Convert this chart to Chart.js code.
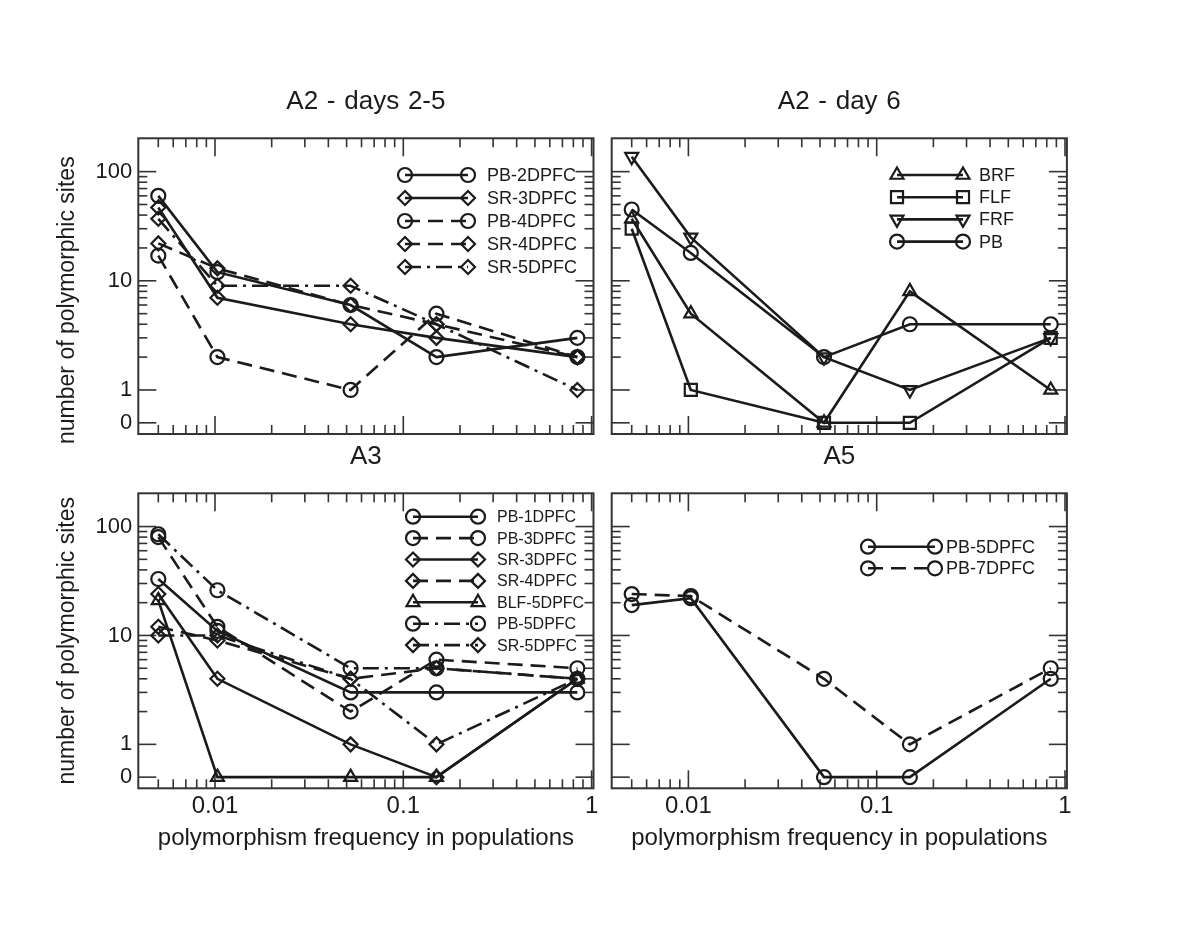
<!DOCTYPE html>
<html>
<head>
<meta charset="utf-8">
<title>polymorphic sites</title>
<script src="https://cdn.jsdelivr.net/npm/chart.js@4.4.1/dist/chart.umd.min.js"></script>
<style>
  body { margin: 0; background: #fff; }
  #wrap { position: relative; width: 1200px; height: 927px; }
  #wrap canvas { position: absolute; left: 0; top: 0; }
</style>
</head>
<body>
<div id="wrap">
  <canvas id="chartA2days" width="1200" height="927"></canvas>
  <canvas id="chartA2day6" width="1200" height="927"></canvas>
  <canvas id="chartA3" width="1200" height="927"></canvas>
  <canvas id="chartA5" width="1200" height="927"></canvas>
</div>
<script>
// frequency bins (x) shared by all panels
const freqBins = [0.005, 0.0103, 0.0525, 0.15, 0.84];

// A2 - days 2-5
const pb2dpfc = [60, 12, 6, 2, 3];
const sr3dpfcA2 = [47, 7, 4, 3, 2];
const pb4dpfc = [17, 2, 1, 5, 2];
const sr4dpfcA2 = [22, 13, 6, 4, 2];
const sr5dpfcA2 = [37, 9, 9, 4, 1];

// A2 - day 6
const brf = [37, 5, 0, 8, 1];
const flf = [30, 1, 0, 0, 3];
const frf = [137, 25, 2, 1, 3];
const pbDay6 = [45, 18, 2, 4, 4];

// A3
const pb1dpfc = [33, 11, 3, 3, 3];
const pb3dpfc = [80, 12, 2, 6, 5];
const sr3dpfcA3 = [24, 4, 1, 0, 4];
const sr4dpfcA3 = [12, 9, 4, 5, 4];
const blf5dpfc = [21, 0, 0, 0, 4];
const pb5dpfcA3 = [85, 26, 5, 5, 4];
const sr5dpfcA3 = [10, 10, 4, 1, 4];

// A5
const pb5dpfcA5 = [19, 22, 0, 0, 4];
const pb7dpfc = [24, 23, 4, 1, 5];

// axis ticks
const yMajor = [0, 1, 10, 100];
const yMajorLabels = ['0', '1', '10', '100'];
const yMinor = [2, 3, 4, 5, 6, 7, 8, 9, 20, 30, 40, 50, 60, 70, 80, 90];
const xMajor = [0.01, 0.1, 1];
const xMajorLabels = ['0.01', '0.1', '1'];
const xMinor = [0.005, 0.006, 0.007, 0.008, 0.009, 0.02, 0.03, 0.04, 0.05, 0.06, 0.07, 0.08, 0.09,
                0.2, 0.3, 0.4, 0.5, 0.6, 0.7, 0.8, 0.9];

const ZERO_AT = 0.5;   // zero counts are plotted at 0.5 on the log axis
const ink = '#1b1b1b';
const frameColor = '#333';
const fontFam = '"Liberation Sans", Arial, sans-serif';

const SOLID = [];
const DASH = [15, 8];
const DASHDOT = [16, 6, 3, 6];

const CIRCLE = { style: 'circle', r: 7 };
const DIAMOND = { style: 'rectRot', r: 7 };
const TRI_UP = { style: 'triangle', r: 7.5 };
const TRI_DOWN = { style: 'triangle', r: 7.5, rot: 180 };
const SQUARE = { style: 'rect', r: 8.5 };

function series(label, values, marker, dash) {
    return {
        label: label,
        data: values.map(function(v, i) { return { x: freqBins[i], y: v === 0 ? ZERO_AT : v }; }),
        borderColor: ink,
        borderWidth: 2.6,
        borderDash: dash,
        pointStyle: marker.style,
        pointRotation: marker.rot || 0,
        pointRadius: marker.r,
        pointHoverRadius: marker.r,
        pointBorderWidth: 2.2,
        pointBorderColor: ink,
        pointBackgroundColor: 'rgba(0,0,0,0)',
        tension: 0,
        fill: false
    };
}

function strokeLine(ctx, x0, y0, x1, y1) {
    ctx.beginPath();
    ctx.moveTo(x0, y0);
    ctx.lineTo(x1, y1);
    ctx.stroke();
}

function legendMarker(ctx, ds, x, y) {
    const opts = {
        pointStyle: ds.pointStyle,
        rotation: ds.pointRotation,
        radius: ds.pointRadius,
        borderWidth: ds.pointBorderWidth
    };
    ctx.save();
    ctx.setLineDash([]);
    ctx.lineWidth = ds.pointBorderWidth;
    ctx.strokeStyle = ink;
    ctx.fillStyle = 'rgba(0,0,0,0)';
    if (Chart.helpers && Chart.helpers.drawPoint) {
        Chart.helpers.drawPoint(ctx, opts, x, y);
    } else {
        ctx.beginPath();
        ctx.arc(x, y, ds.pointRadius, 0, Math.PI * 2);
        ctx.stroke();
    }
    ctx.restore();
}

const panelDeco = {
    id: 'panelDeco',
    beforeDatasetsDraw: function(chart, args, o) {
        const ctx = chart.ctx;
        const a = chart.chartArea;
        const xs = chart.scales.x, ys = chart.scales.y;
        ctx.save();
        ctx.strokeStyle = frameColor;
        ctx.lineWidth = 1.6;
        yMajor.forEach(function(v) {
            const py = ys.getPixelForValue(v === 0 ? ZERO_AT : v);
            strokeLine(ctx, a.left, py, a.left + 18, py);
            strokeLine(ctx, a.right - 18, py, a.right, py);
        });
        yMinor.forEach(function(v) {
            const py = ys.getPixelForValue(v);
            strokeLine(ctx, a.left, py, a.left + 9, py);
            strokeLine(ctx, a.right - 9, py, a.right, py);
        });
        xMajor.forEach(function(v) {
            const px = xs.getPixelForValue(v);
            strokeLine(ctx, px, a.bottom, px, a.bottom - 18);
            strokeLine(ctx, px, a.top, px, a.top + 18);
        });
        xMinor.forEach(function(v) {
            const px = xs.getPixelForValue(v);
            strokeLine(ctx, px, a.bottom, px, a.bottom - 9);
            strokeLine(ctx, px, a.top, px, a.top + 9);
        });
        ctx.lineWidth = 2;
        ctx.strokeRect(a.left, a.top, a.right - a.left, a.bottom - a.top);
        ctx.restore();
    },
    afterDraw: function(chart, args, o) {
        const ctx = chart.ctx;
        const a = chart.chartArea;
        const xs = chart.scales.x, ys = chart.scales.y;
        const cx = (a.left + a.right) / 2;
        ctx.save();
        ctx.fillStyle = ink;

        // panel title
        ctx.font = '26px ' + fontFam;
        ctx.textAlign = 'center';
        ctx.textBaseline = 'middle';
        if ('wordSpacing' in ctx) ctx.wordSpacing = '1.5px';
        ctx.fillText(o.title, cx, a.top - 36);
        if ('wordSpacing' in ctx) ctx.wordSpacing = '0px';

        if (o.yLabels) {
            ctx.font = '22px ' + fontFam;
            ctx.textAlign = 'right';
            yMajor.forEach(function(v, i) {
                ctx.fillText(yMajorLabels[i], a.left - 6, ys.getPixelForValue(v === 0 ? ZERO_AT : v));
            });
            ctx.save();
            ctx.font = '23px ' + fontFam;
            ctx.translate(68, (a.top + a.bottom) / 2 + o.yTitleShift);
            ctx.rotate(-Math.PI / 2);
            ctx.textAlign = 'center';
            ctx.fillText('number of polymorphic sites', 0, 0);
            ctx.restore();
        }
        if (o.xLabels) {
            ctx.font = '24px ' + fontFam;
            ctx.textAlign = 'center';
            xMajor.forEach(function(v, i) {
                ctx.fillText(xMajorLabels[i], xs.getPixelForValue(v), a.bottom + 18);
            });
            ctx.fillText('polymorphism frequency in populations', cx, a.bottom + 50);
        }

        // legend: line segment with a marker at both ends
        const lg = o.legend;
        ctx.font = lg.size + 'px ' + fontFam;
        ctx.textAlign = 'left';
        chart.data.datasets.forEach(function(ds, i) {
            const y = lg.y + i * lg.step;
            ctx.save();
            ctx.strokeStyle = ink;
            ctx.lineWidth = ds.borderWidth;
            ctx.setLineDash(ds.borderDash);
            strokeLine(ctx, lg.x0, y, lg.x1, y);
            ctx.restore();
            legendMarker(ctx, ds, lg.x0, y);
            legendMarker(ctx, ds, lg.x1, y);
            ctx.fillStyle = ink;
            ctx.fillText(ds.label, lg.tx, y + 1);
        });
        ctx.restore();
    }
};

function makePanel(id, area, datasets, deco) {
    const ctx = document.getElementById(id).getContext('2d');
    return new Chart(ctx, {
        type: 'line',
        data: { datasets: datasets },
        plugins: [panelDeco],
        options: {
            responsive: false,
            animation: false,
            devicePixelRatio: 1,
            events: [],
            layout: {
                padding: { left: area.left, top: area.top, right: 1200 - area.right, bottom: 927 - area.bottom }
            },
            plugins: {
                legend: { display: false },
                tooltip: { enabled: false },
                panelDeco: deco
            },
            scales: {
                x: { type: 'logarithmic', min: 0.003915, max: 1.0235, display: false },
                y: { type: 'logarithmic', min: 0.395, max: 202, display: false }
            }
        }
    });
}

makePanel('chartA2days', { left: 138.3, right: 593.5, top: 138.3, bottom: 434 }, [
    series('PB-2DPFC', pb2dpfc, CIRCLE, SOLID),
    series('SR-3DPFC', sr3dpfcA2, DIAMOND, SOLID),
    series('PB-4DPFC', pb4dpfc, CIRCLE, DASH),
    series('SR-4DPFC', sr4dpfcA2, DIAMOND, DASH),
    series('SR-5DPFC', sr5dpfcA2, DIAMOND, DASHDOT)
], { title: 'A2 - days 2-5', yLabels: true, xLabels: false, yTitleShift: 14,
     legend: { x0: 405, x1: 468, tx: 487, y: 175, step: 23, size: 18 } });

makePanel('chartA2day6', { left: 611.7, right: 1066.9, top: 138.3, bottom: 434 }, [
    series('BRF', brf, TRI_UP, SOLID),
    series('FLF', flf, SQUARE, SOLID),
    series('FRF', frf, TRI_DOWN, SOLID),
    series('PB', pbDay6, CIRCLE, SOLID)
], { title: 'A2 - day 6', yLabels: false, xLabels: false, yTitleShift: 0,
     legend: { x0: 897, x1: 963, tx: 979, y: 175, step: 22.2, size: 18 } });

makePanel('chartA3', { left: 138.3, right: 593.5, top: 493.3, bottom: 788.3 }, [
    series('PB-1DPFC', pb1dpfc, CIRCLE, SOLID),
    series('PB-3DPFC', pb3dpfc, CIRCLE, DASH),
    series('SR-3DPFC', sr3dpfcA3, DIAMOND, SOLID),
    series('SR-4DPFC', sr4dpfcA3, DIAMOND, DASH),
    series('BLF-5DPFC', blf5dpfc, TRI_UP, SOLID),
    series('PB-5DPFC', pb5dpfcA3, CIRCLE, DASHDOT),
    series('SR-5DPFC', sr5dpfcA3, DIAMOND, DASHDOT)
], { title: 'A3', yLabels: true, xLabels: true, yTitleShift: 0,
     legend: { x0: 413, x1: 478, tx: 497, y: 516.7, step: 21.4, size: 16 } });

makePanel('chartA5', { left: 611.7, right: 1066.9, top: 493.3, bottom: 788.3 }, [
    series('PB-5DPFC', pb5dpfcA5, CIRCLE, SOLID),
    series('PB-7DPFC', pb7dpfc, CIRCLE, DASH)
], { title: 'A5', yLabels: false, xLabels: true, yTitleShift: 0,
     legend: { x0: 868, x1: 935, tx: 946, y: 546.7, step: 21.6, size: 18 } });
</script>
</body>
</html>
